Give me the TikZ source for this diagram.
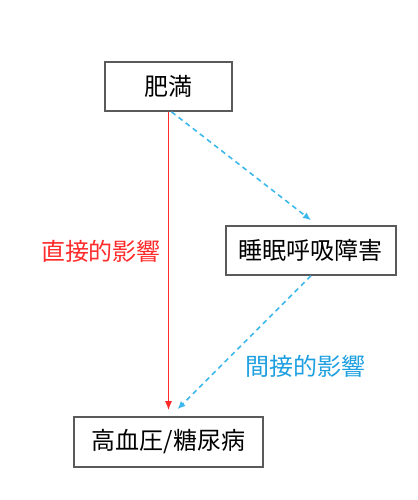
\documentclass[tikz,border=0pt]{standalone}
\usepackage{fontspec}
\setmainfont{Noto Sans CJK JP}
\usetikzlibrary{arrows.meta}
\definecolor{boxline}{HTML}{5A5A5A}
\definecolor{direct}{HTML}{FF2A2A}
\definecolor{indirect}{HTML}{3CB8EC}
\definecolor{indirecttext}{HTML}{1E9FE0}
\begin{document}
\begin{tikzpicture}[x=0.5pt,y=-0.5pt,
  box/.style={draw=boxline,line width=0.8pt,inner sep=0pt,font=\fontsize{12}{14}\selectfont},
  directarrow/.style={draw=direct,line width=0.6pt,-{Latex[length=4.5pt,width=3.5pt]}},
  indirectarrow/.style={draw=indirect,line width=0.8pt,dash pattern=on 2.5pt off 2pt,-{Latex[length=4pt,width=3.5pt]}}]
  \useasboundingbox (0,0) rectangle (418,500);
  \node[box,minimum width=63.5pt,minimum height=24.5pt] (obesity) at (168.5,86.5) {肥満};
  \node[box,minimum width=85pt,minimum height=24.5pt] (apnea) at (311,250.5) {睡眠呼吸障害};
  \node[box,minimum width=94.5pt,minimum height=25pt] (disease) at (168.5,442) {高血圧/糖尿病};
  % direct path
  \draw[directarrow] (obesity.south) -- ([yshift=3pt]disease.north);
  \node[text=direct,font=\fontsize{12}{14}\selectfont] (directlabel) at (101,251) {直接的影響};
  % indirect path
  \draw[indirectarrow] ([xshift=1.5pt]obesity.south) -- ([yshift=2.5pt]apnea.north);
  \draw[indirectarrow] (apnea.south) -- ([xshift=4.5pt,yshift=3.5pt]disease.north);
  \node[text=indirecttext,font=\fontsize{12}{14}\selectfont] (indirectlabel) at (306,366) {間接的影響};
\end{tikzpicture}
\end{document}
